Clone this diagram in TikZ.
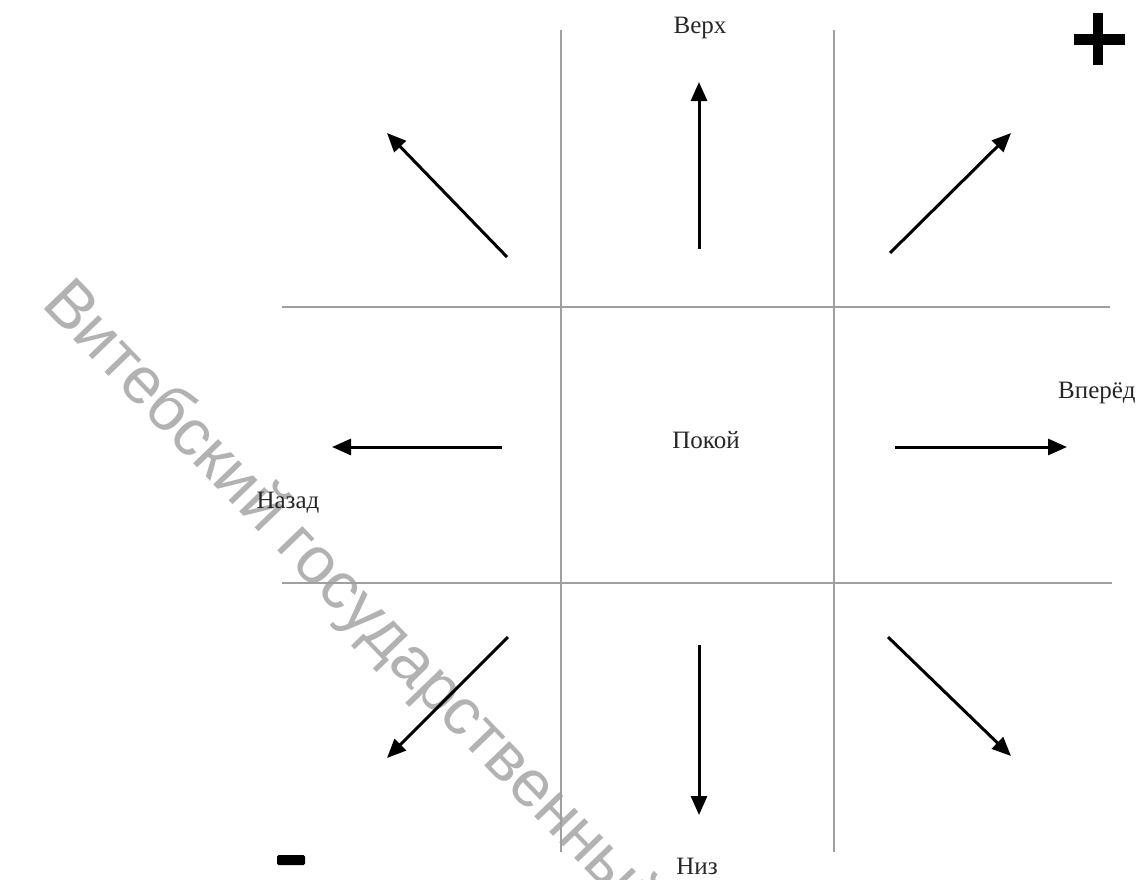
\documentclass[tikz,border=0pt]{standalone}
\usepackage{fontspec}
\setmainfont{Liberation Serif}
\newfontfamily\wmfont{Liberation Sans}
\usetikzlibrary{arrows.meta}
\begin{document}
\begin{tikzpicture}[x=1pt,y=-1pt,
  gridline/.style={draw=gray!75,line width=2.5pt},
  dirarrow/.style={draw=black,line width=3pt,-{Triangle[length=19pt,width=16pt]}},
  lbl/.style={font=\fontsize{25}{25}\selectfont,text=black!85,inner sep=0pt},
  sign/.style={fill=black,draw=none}]
\useasboundingbox (0,0) rectangle (1139,879);
\begin{scope}
\clip (0,0) rectangle (1139,879);
\node[font=\wmfont\fontsize{66}{66}\selectfont,text=gray!60,rotate=-46,anchor=base west,inner sep=0pt] (wm) at (40,305) {Витебский государственный};
\end{scope}
% grid
\coordinate (v1t) at (561,30); \coordinate (v1b) at (561,852);
\coordinate (v2t) at (834,30); \coordinate (v2b) at (834,852);
\coordinate (h1l) at (282,307); \coordinate (h1r) at (1110,307);
\coordinate (h2l) at (282,583); \coordinate (h2r) at (1112,583);
\draw[gridline] (v1t) -- (v1b);
\draw[gridline] (v2t) -- (v2b);
\draw[gridline] (h1l) -- (h1r);
\draw[gridline] (h2l) -- (h2r);
% labels
\node[lbl,anchor=base] (up) at (700,33) {Верх};
\node[lbl,anchor=base] (rest) at (706,448) {Покой};
\node[lbl,anchor=base west] (fwd) at (1058,398) {Вперёд};
\node[lbl,anchor=base] (back) at (288,508) {Назад};
\node[lbl,anchor=base] (down) at (697,874) {Низ};
% arrows
\coordinate (us) at (699,249); \coordinate (ue) at (699,82);
\coordinate (uls) at (507,257); \coordinate (ule) at (387,133);
\coordinate (urs) at (890,253); \coordinate (ure) at (1011,133);
\coordinate (ls) at (502,447); \coordinate (le) at (332,447);
\coordinate (rs) at (895,447); \coordinate (re) at (1067,447);
\coordinate (dls) at (508,637); \coordinate (dle) at (387,758);
\coordinate (ds) at (699,645); \coordinate (de) at (699,815);
\coordinate (drs) at (888,637); \coordinate (dre) at (1011,756);
\draw[dirarrow] (us) -- (ue);
\draw[dirarrow] (uls) -- (ule);
\draw[dirarrow] (urs) -- (ure);
\draw[dirarrow] (ls) -- (le);
\draw[dirarrow] (rs) -- (re);
\draw[dirarrow] (dls) -- (dle);
\draw[dirarrow] (ds) -- (de);
\draw[dirarrow] (drs) -- (dre);
% plus and minus signs
\fill[sign] (1074,34) rectangle (1125,45);
\fill[sign] (1093,13) rectangle (1103,65);
\fill[sign,rounded corners=1.5pt] (277,855) rectangle (305,865);
\end{tikzpicture}
\end{document}
